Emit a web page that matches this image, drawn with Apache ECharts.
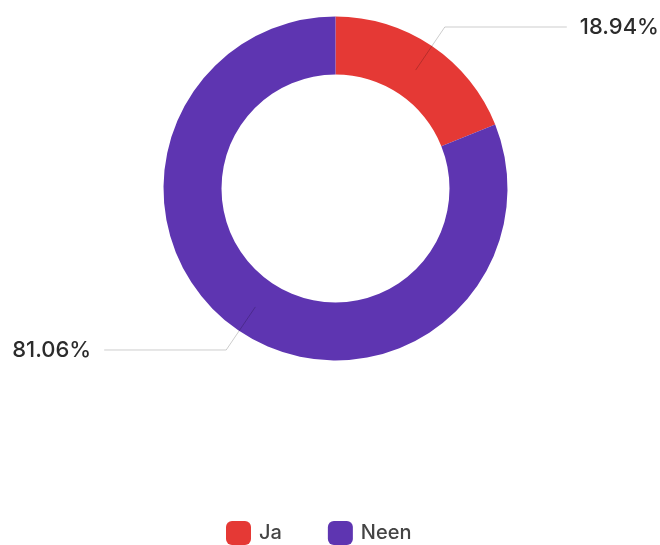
<!DOCTYPE html>
<html>
<head>
<meta charset="utf-8">
<script src="https://cdn.jsdelivr.net/npm/echarts@6/dist/echarts.min.js"></script>
<style>
  html, body { margin: 0; padding: 0; background: #fff; }
  #chart { width: 660px; height: 545px; }
</style>
</head>
<body>
<div id="chart"></div>
<script>
// Answer categories and their shares (percent)
const categories = ['Ja', 'Neen'];
const shares = [18.94, 81.06];
const colors = ['#E53935', '#5E35B1'];

const FONT = 'Inter, "Liberation Sans", Arial, sans-serif';

const ringData = categories.map((name, i) => ({
  name: name,
  value: shares[i],
  itemStyle: { color: colors[i] }
}));

// Transparent copy of the ring whose outer edge sits mid-ring,
// so the label leader lines start inside the band.
const labelData = categories.map((name, i) => ({
  name: name,
  value: shares[i],
  itemStyle: { color: 'rgba(0,0,0,0)' }
}));

const chart = echarts.init(document.getElementById('chart'), null, { renderer: 'canvas' });

chart.setOption({
  animation: false,
  backgroundColor: '#ffffff',
  legend: {
    left: 221,
    top: 516,
    itemWidth: 25,
    itemHeight: 24,
    itemGap: 46,
    icon: 'roundRect',
    selectedMode: false,
    data: categories.map((name, i) => ({ name: name, itemStyle: { color: colors[i] } })),
    textStyle: { fontFamily: FONT, fontSize: 20, fontWeight: 500, color: '#444', padding: [0, 0, 0, 3] }
  },
  series: [
    {
      type: 'pie',
      name: 'ring',
      center: [335.5, 188.5],
      radius: [114, 172],
      startAngle: 90,
      clockwise: true,
      silent: true,
      label: { show: false },
      labelLine: { show: false },
      itemStyle: { borderWidth: 0 },
      data: ringData
    },
    {
      type: 'pie',
      name: 'labels',
      center: [335.5, 188.5],
      radius: [0, 143],
      startAngle: 90,
      clockwise: true,
      silent: true,
      z: 3,
      label: {
        show: true,
        position: 'outside',
        formatter: '{c}%',
        fontFamily: FONT,
        fontSize: 22,
        fontWeight: 500,
        color: '#2b2b2b',
        distanceToLabelLine: 13,
        bleedMargin: 0
      },
      labelLine: {
        show: true,
        length: 52,
        length2: 122,
        lineStyle: { color: 'rgba(0,0,0,0.2)', width: 1 }
      },
      emphasis: { disabled: true },
      data: labelData
    }
  ]
});
</script>
</body>
</html>
